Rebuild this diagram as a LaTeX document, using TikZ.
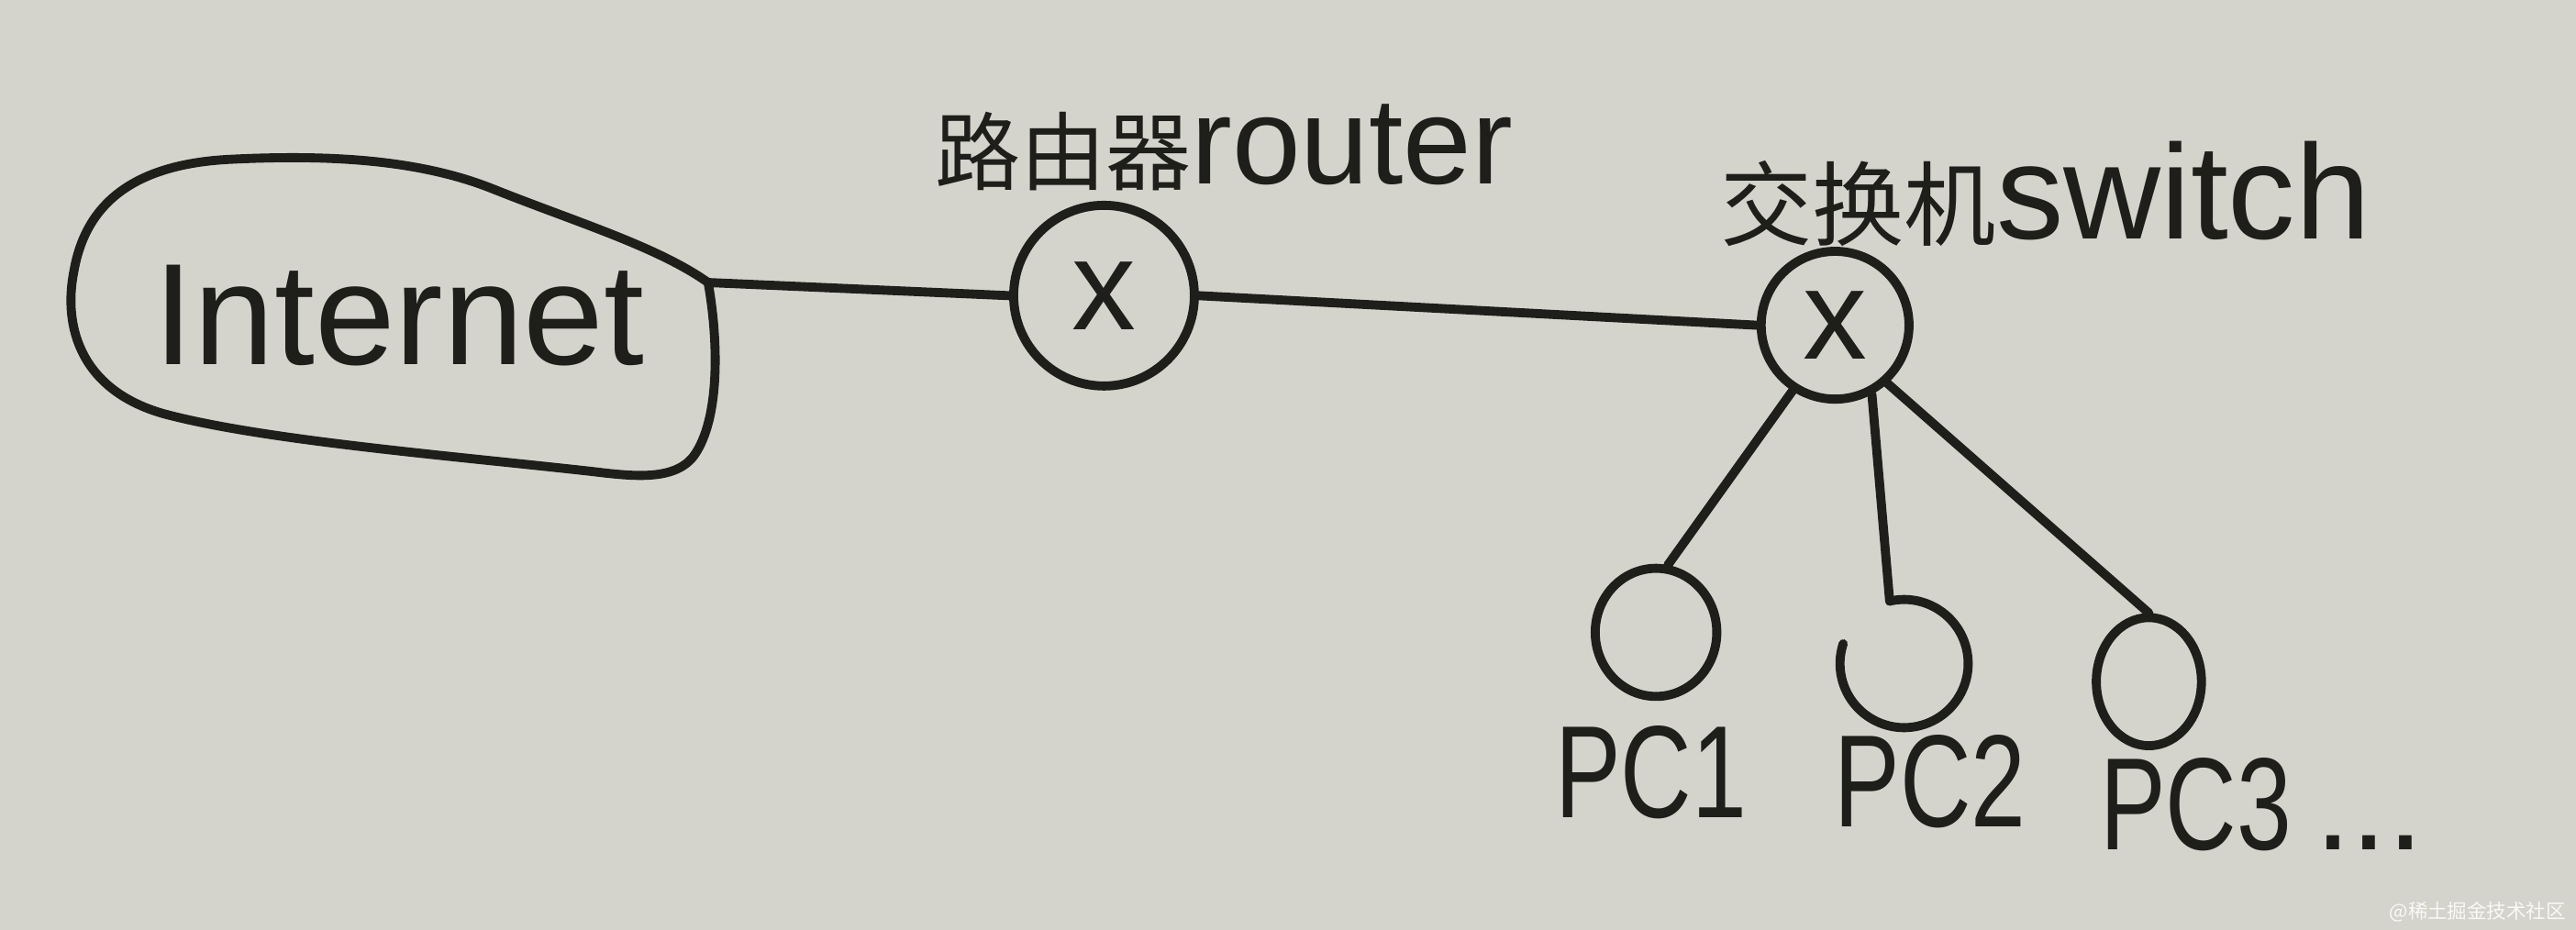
\documentclass[tikz,border=0pt]{standalone}
\usepackage{fontspec}
\usepackage{graphicx}
\usetikzlibrary{shapes.geometric}
\setmainfont{Liberation Sans}
\newfontfamily\cjk{Noto Sans CJK SC}
\definecolor{paper}{RGB}{212,212,204}
\definecolor{ink}{RGB}{30,30,26}
\begin{document}
\begin{tikzpicture}[x=1pt,y=-1pt, line cap=round, line join=round,
  inkline/.style={draw=ink, line width=5.5pt},
  hub/.style={circle, draw=ink, line width=5.5pt, inner sep=0pt, text=ink,
    font=\fontsize{78}{78}\selectfont},
  pcbox/.style={ellipse, draw=ink, line width=5.5pt, inner sep=0pt},
  lbl/.style={text=ink, inner sep=0pt}]
\fill[paper] (0,0) rectangle (1568,566);
\useasboundingbox (0,0) rectangle (1568,566);

% Internet cloud
\coordinate (inetport) at (431,172);
\draw[inkline] (inetport) .. controls (437,205) and (439,255) .. (422,278)
  .. controls (410,293) and (385,290) .. (360,287)
  .. controls (270,277) and (160,268) .. (100,252)
  .. controls (50,238) and (38,200) .. (45,165)
  .. controls (52,125) and (80,100) .. (140,97)
  .. controls (200,94) and (255,97) .. (300,115)
  .. controls (350,135) and (400,150) .. (inetport) -- cycle;
\node[lbl, font=\fontsize{88}{88}\selectfont] (inet) at (243,192) {Internet};

% router
\node[hub, minimum size=110pt] (router) at (672,180) {x};
\node[lbl] (routerlbl) at (745,90) {{\cjk\fontsize{52}{52}\selectfont 路由器}{\fontsize{75}{75}\selectfont router}};

% switch
\node[hub, minimum size=90pt] (switch) at (1117,198) {x};
\node[lbl] (switchlbl) at (1245,118) {{\cjk\fontsize{56}{56}\selectfont 交换机}{\fontsize{82}{82}\selectfont switch}};

% PCs
\node[pcbox, minimum width=74pt, minimum height=78pt] (pc1) at (1008,385) {};
\node[ellipse, inner sep=0pt, minimum size=78pt] (pc2) at (1159,404) {};
\draw[inkline] ([shift={(-103:39)}]pc2.center) arc[start angle=-103, end angle=198, radius=39];
\coordinate (pc2top) at ([shift={(-103:39)}]pc2.center);
\node[pcbox, minimum width=64pt, minimum height=78pt] (pc3) at (1308,415) {};

\node[lbl, font=\fontsize{80}{80}\selectfont] (pc1lbl) at (1005,470) {\scalebox{0.75}[1]{PC1}};
\node[lbl, font=\fontsize{80}{80}\selectfont] (pc2lbl) at (1175,476) {\scalebox{0.75}[1]{PC2}};
\node[lbl, font=\fontsize{80}{80}\selectfont, anchor=west] (pc3lbl) at (1278,490) {\scalebox{0.75}[1]{PC3}\hspace{14pt}...};

% connectors
\draw[inkline] (inetport) -- (router.west);
\draw[inkline] (router.east) -- (switch.west);
\draw[inkline] (switch.237) -- (pc1.80);
\draw[inkline] (switch.298) -- (pc2top);
\draw[inkline] (switch.312) -- (pc3.90);

% watermark
\node[lbl, font=\cjk\fontsize{12}{12}\selectfont, text=white!85!paper, anchor=east] (wm) at (1562,555) {@稀土掘金技术社区};
\end{tikzpicture}
\end{document}
